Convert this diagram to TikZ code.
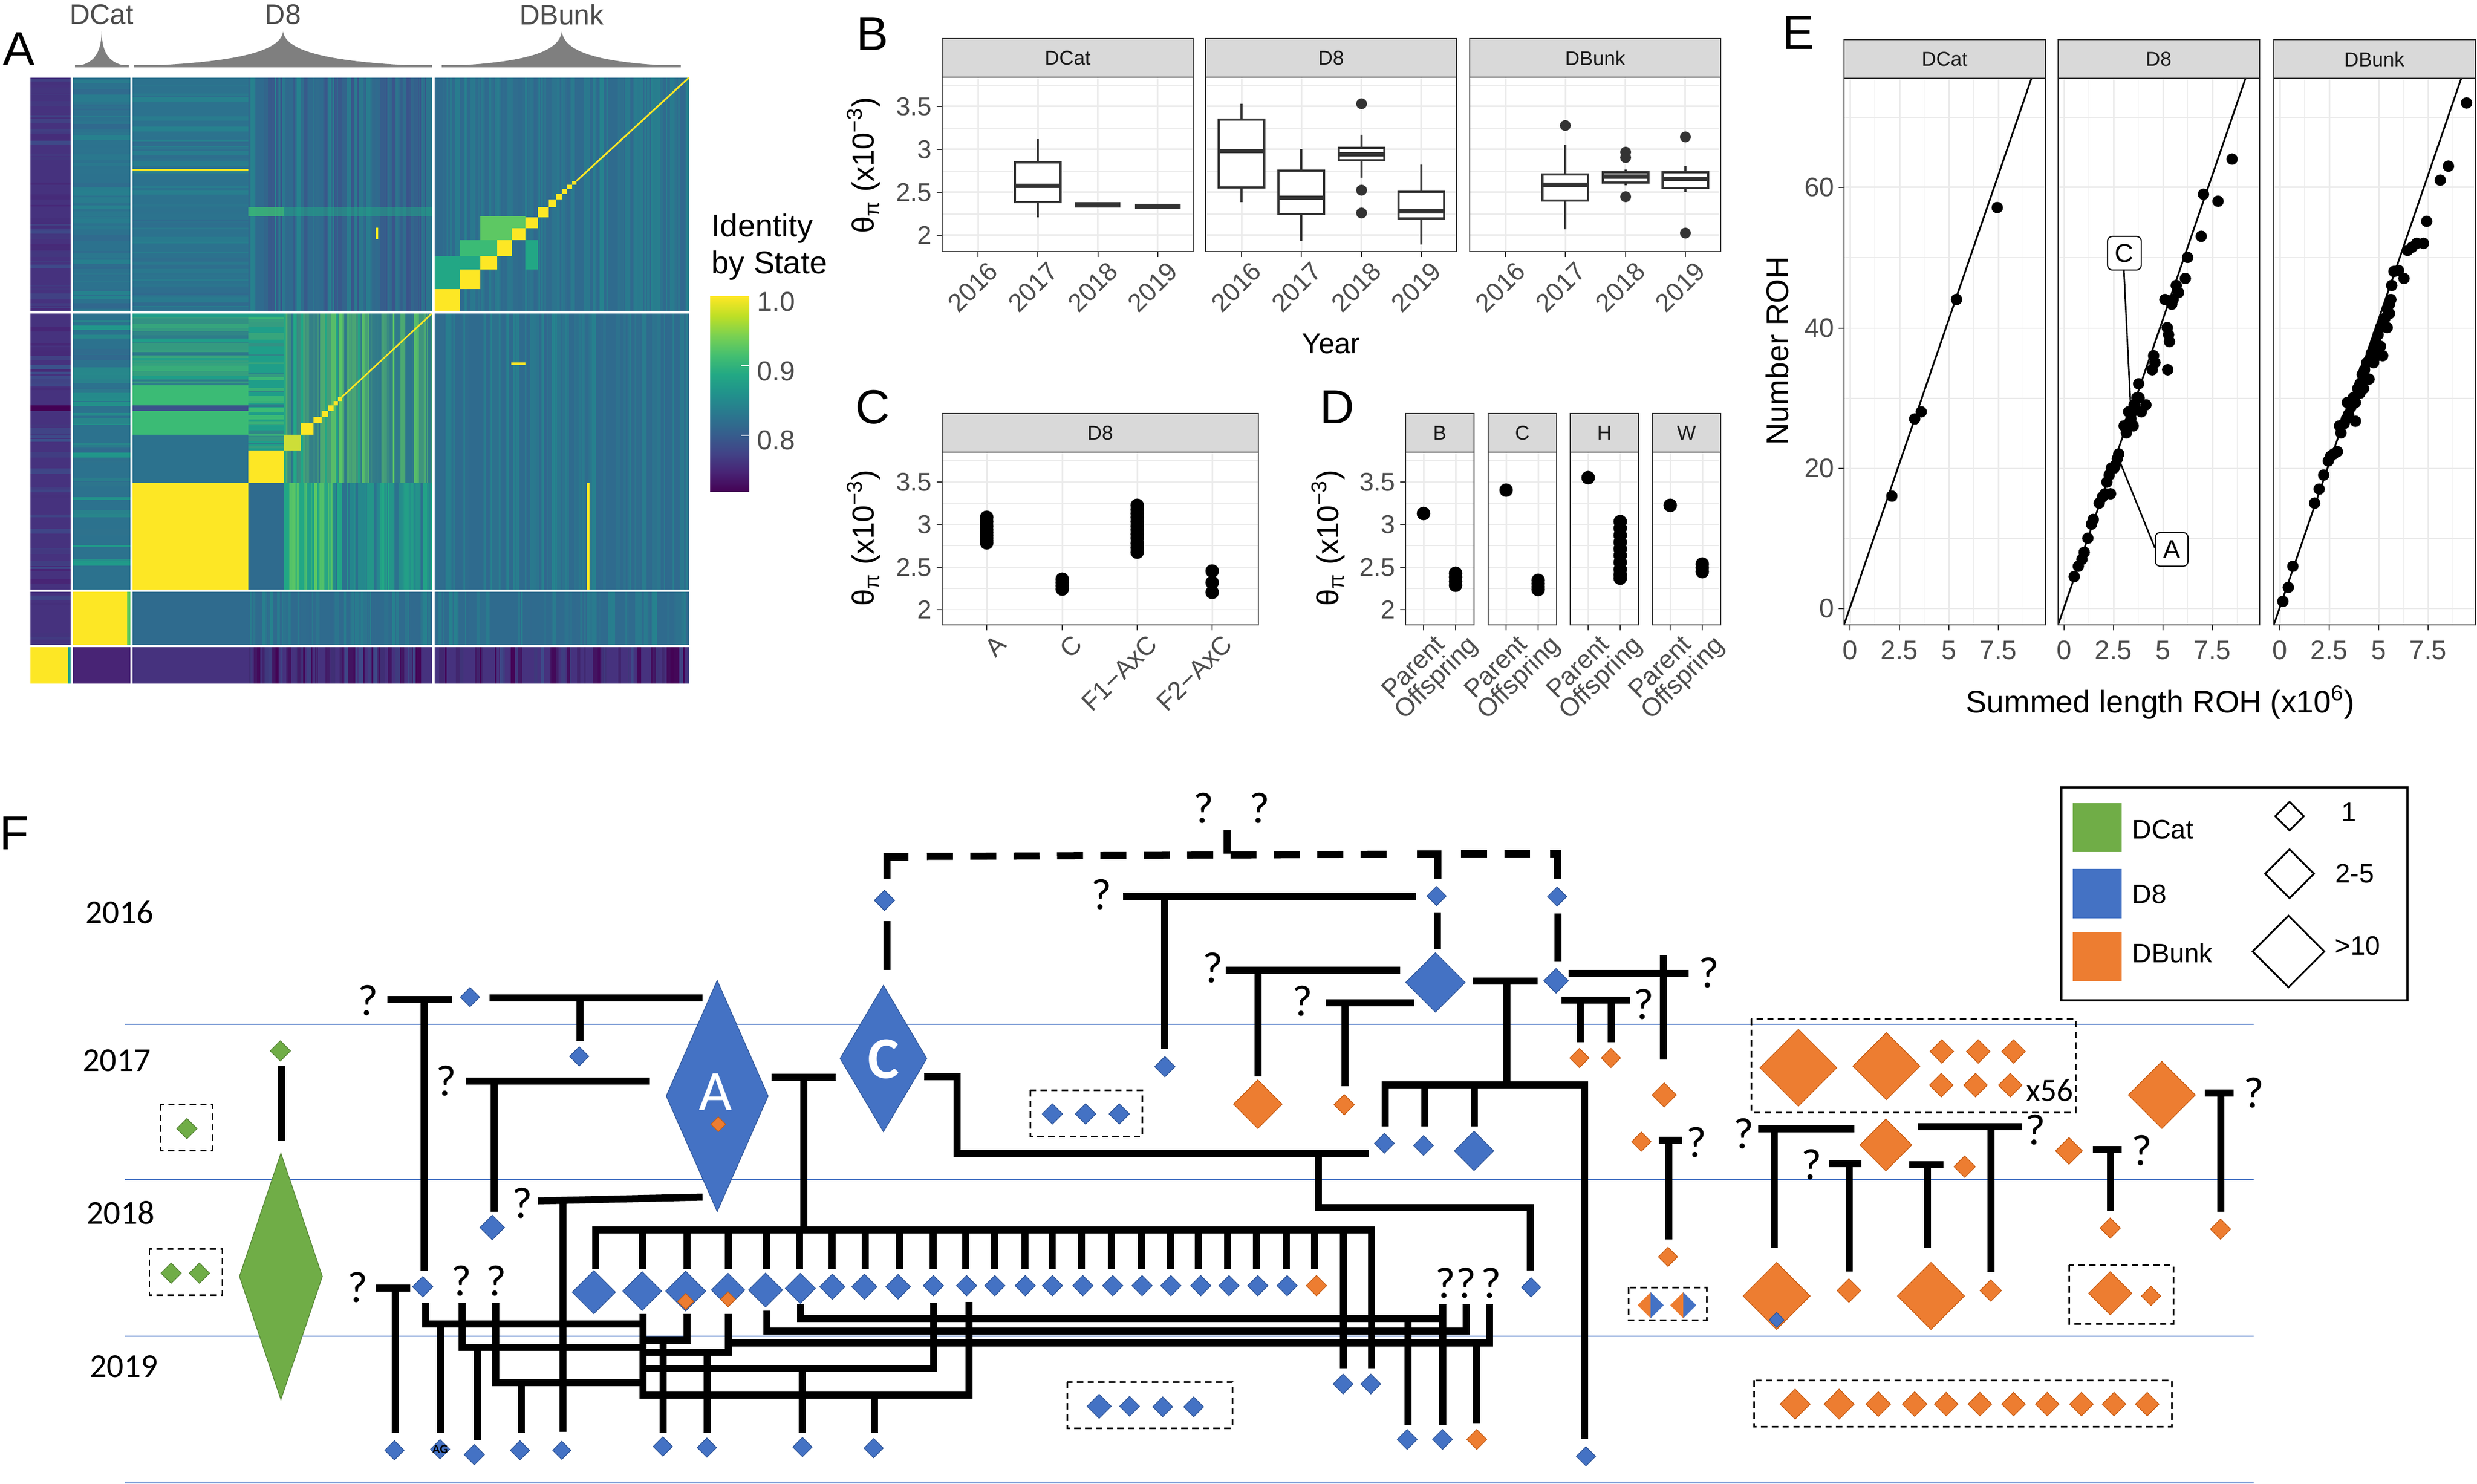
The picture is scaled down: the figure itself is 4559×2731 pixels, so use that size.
\documentclass[tikz,border=0pt]{standalone}
\usepackage{fontspec}
\setmainfont{Liberation Sans}
\newfontfamily\calfont{Carlito}
\usetikzlibrary{shapes.geometric}
\definecolor{fb}{HTML}{4472C4}
\definecolor{fbd}{HTML}{2F5597}
\definecolor{fo}{HTML}{ED7D31}
\definecolor{fod}{HTML}{C55A11}
\definecolor{fg}{HTML}{70AD47}
\definecolor{fgd}{HTML}{548235}
\definecolor{yline}{HTML}{4472C4}
\definecolor{gridc}{HTML}{EBEBEB}
\definecolor{gtw}{HTML}{333333}
\definecolor{gef}{HTML}{D9D9D9}
\definecolor{gth}{HTML}{4D4D4D}
\definecolor{gtn}{HTML}{1A1A1A}
\definecolor{tentc}{HTML}{7F7F7F}
\definecolor{vA}{HTML}{440154}
\definecolor{vB}{HTML}{482475}
\definecolor{vC}{HTML}{414487}
\definecolor{vD}{HTML}{355F8D}
\definecolor{vE}{HTML}{2A788E}
\definecolor{vF}{HTML}{21918C}
\definecolor{vG}{HTML}{22A884}
\definecolor{vH}{HTML}{44BF70}
\definecolor{vI}{HTML}{7AD151}
\definecolor{vJ}{HTML}{BDDF26}
\definecolor{vK}{HTML}{FDE725}
\definecolor{hP}{HTML}{46327E}
\definecolor{hPb}{HTML}{482475}
\definecolor{hPc}{HTML}{3E4A89}
\definecolor{hPd}{HTML}{440154}
\definecolor{hT}{HTML}{2C728E}
\definecolor{hTb}{HTML}{31688E}
\definecolor{hTc}{HTML}{26828E}
\definecolor{hTd}{HTML}{2F6B8E}
\definecolor{hG}{HTML}{22A785}
\definecolor{hGb}{HTML}{3BBB75}
\definecolor{hGc}{HTML}{1F9E89}
\definecolor{hGd}{HTML}{5DC863}
\definecolor{hY}{HTML}{FDE725}
\definecolor{hB}{HTML}{3B528B}
\pgfdeclareverticalshading{viridis}{100bp}{color(0bp)=(vA); color(25bp)=(vA); color(30bp)=(vB); color(35bp)=(vC); color(40bp)=(vD); color(45bp)=(vE); color(50bp)=(vF); color(55bp)=(vG); color(60bp)=(vH); color(65bp)=(vI); color(70bp)=(vJ); color(75bp)=(vK); color(100bp)=(vK)}
\newcommand\fsz[1]{\fontsize{#1}{#1}\selectfont}
\newcommand\hst[7]{\foreach \ii in {1,...,#5}{\pgfmathsetmacro\yya{#3+rnd*(#4-#3)}\pgfmathsetmacro\yyb{min(\yya+2+rnd*9,#4)}\pgfmathtruncatemacro\ppc{rnd*100}\fill[#6!\ppc!#7] (#1,\yya) rectangle (#2,\yyb);}}
\newcommand\vst[7]{\foreach \ii in {1,...,#5}{\pgfmathsetmacro\xxa{#1+rnd*(#2-#1)}\pgfmathsetmacro\xxb{min(\xxa+2+rnd*7,#2)}\pgfmathtruncatemacro\ppc{rnd*100}\fill[#6!\ppc!#7] (\xxa,#3) rectangle (\xxb,#4);}}
\newcommand\bbox[6]{\draw[bxl] (#1,#5) -- (#1,#2) (#1,#4) -- (#1,#6);
 \filldraw[bxl,fill=white] (#1-42,#2) rectangle (#1+42,#4);
 \draw[bxm] (#1-42,#3) -- (#1+42,#3);}
\tikzset{
 wire/.style={line width=3.7pt, line join=miter},
 dsh/.style={line width=3.7pt, dash pattern=on 13.6pt off 9.1pt},
 dbox/.style={draw=black, line width=0.85pt, dash pattern=on 3.3pt off 2.3pt},
 yl/.style={draw=yline, line width=0.6pt},
 qm/.style={font=\calfont\fsz{23pt}},
 yr/.style={font=\calfont\fsz{17.5pt}},
 bd/.style={diamond, inner sep=0pt, fill=fb, draw=fbd, line width=0.35pt, minimum width=#1*0.01cm, minimum height=#1*0.01cm},
 od/.style={diamond, inner sep=0pt, fill=fo, draw=fod, line width=0.35pt, minimum width=#1*0.01cm, minimum height=#1*0.01cm},
 gd/.style={diamond, inner sep=0pt, fill=fg, draw=fgd, line width=0.35pt, minimum width=#1*0.01cm, minimum height=#1*0.01cm},
 grid/.style={draw=gridc, line width=0.85pt},
 gridm/.style={draw=gridc, line width=0.42pt},
 frame/.style={draw=gtw, line width=0.6pt},
 strip/.style={fill=gef, draw=gtw, line width=0.6pt},
 tick/.style={draw=gtw, line width=0.6pt},
 tl/.style={text=gth, font=\fsz{13.5pt}},
 dot/.style={circle, fill=black, inner sep=0pt, minimum size=0.21cm},
 cdot/.style={circle, fill=black, inner sep=0pt, minimum size=0.25cm},
 odot/.style={circle, fill=gtw, inner sep=0pt, minimum size=0.2cm},
 bxl/.style={draw=gtw, line width=1.1pt},
 bxm/.style={draw=gtw, line width=2.3pt},
 plab/.style={font=\fsz{25pt}},
}
\begin{document}
\begin{tikzpicture}[x=0.01cm,y=-0.01cm,every node/.style={inner sep=0pt}]
\useasboundingbox (0,0) rectangle (4559,2731);
\fill[white] (0,0) rectangle (4559,2731);
\pgfmathsetseed{20231}
%%%%%%%%%%%%%%%% PANEL A
\node[plab] (labA) at (35,90) {A};
% col 0
\fill[hP] (56,143) rectangle (131,1188);
\hst{56}{131}{143}{1188}{80}{hPb}{hPc}
\fill[hB] (56,672) rectangle (131,679);
\fill[hPc] (56,684) rectangle (131,688);
\fill[hPd] (56,746) rectangle (131,756);
\fill[hB] (56,808) rectangle (131,813);
\fill[hY] (56,1188) rectangle (131,1258);
\fill[hGc] (125,1188) rectangle (131,1258);
% DCat col
\fill[hT] (131,143) rectangle (241,1086);
\hst{131}{241}{143}{575}{45}{hTb}{hTc}
\hst{131}{241}{575}{1086}{45}{hTb}{hGc}
\fill[hY] (131,1086) rectangle (241,1188);
\fill[hGd] (234,1086) rectangle (241,1188);
\fill[hPb] (131,1188) rectangle (241,1258);
% D8 col, DBunk rows
\fill[hT] (241,143) rectangle (457,575);
\hst{241}{457}{143}{575}{50}{hTb}{hTc}
\fill[hY] (241,311) rectangle (457,315);
\fill[hTd] (457,143) rectangle (797,575);
\vst{457}{797}{143}{575}{100}{hB}{hTc}
\fill[hGb, opacity=0.8] (457,381) rectangle (523,398);
\fill[hG, opacity=0.5] (523,381) rectangle (797,398);
\fill[hY] (692,419) rectangle (696,440);
% D8 col, D8 rows
\fill[hGc] (241,575) rectangle (457,709);
\hst{241}{457}{575}{709}{35}{hT}{hGb}
\fill[hGb] (241,709) rectangle (457,746);
\fill[hB] (241,746) rectangle (457,756);
\fill[hGb] (241,756) rectangle (457,800);
\fill[hT] (241,800) rectangle (457,889);
\fill[hY] (241,889) rectangle (457,1086);
\fill[hGc] (457,575) rectangle (523,829);
\hst{457}{523}{575}{829}{30}{hT}{hGb}
\fill[hY] (457,829) rectangle (523,889);
\fill[hTd] (457,889) rectangle (523,1086);
\fill[hG] (523,575) rectangle (797,889);
\vst{523}{797}{575}{889}{100}{hT}{hGd}
\fill[hG] (523,889) rectangle (612,1086);
\vst{523}{612}{889}{1086}{20}{hGc}{hGd}
\fill[hT] (612,889) rectangle (797,1086);
\vst{612}{797}{889}{1086}{50}{hTc}{hG}
\fill[hY!70!hGd] (523,800) rectangle (554,829);
\fill[hY] (554,779) rectangle (577,800);
\fill[hY] (577,767) rectangle (592,779);
\fill[hY] (592,756) rectangle (604,767);
\fill[hY] (604,746) rectangle (614,756);
\fill[hY] (614,738) rectangle (622,746);
\fill[hY] (622,731) rectangle (629,738);
\draw[hY, line width=0.8pt] (629,731) -- (797,575);
% D8 col, DCat and outgroup rows
\fill[hTd] (241,1086) rectangle (797,1188);
\vst{457}{797}{1086}{1188}{60}{hTb}{hTc}
\fill[hP] (241,1188) rectangle (797,1258);
\vst{457}{797}{1188}{1258}{60}{hPd}{hPc}
% DBunk col
\fill[hTd] (797,143) rectangle (1268,575);
\vst{797}{1268}{143}{575}{120}{hTb}{hTc}
\fill[hG] (797,471) rectangle (884,532);
\fill[hGb] (846,442) rectangle (918,471);
\fill[hGd] (884,398) rectangle (967,442);
\fill[hG] (967,442) rectangle (990,496);
\fill[hY] (797,532) rectangle (846,575);
\fill[hY] (846,496) rectangle (884,532);
\fill[hY] (884,471) rectangle (915,496);
\fill[hY] (915,442) rectangle (942,471);
\fill[hY] (942,420) rectangle (967,442);
\fill[hY] (967,400) rectangle (990,420);
\fill[hY] (990,381) rectangle (1010,400);
\fill[hY] (1010,367) rectangle (1023,381);
\fill[hY] (1023,357) rectangle (1034,367);
\fill[hY] (1034,348) rectangle (1044,357);
\fill[hY] (1044,340) rectangle (1053,348);
\fill[hY] (1053,333) rectangle (1061,340);
\draw[hY, line width=0.9pt] (1061,333) -- (1268,143);
\fill[hTd] (797,575) rectangle (1268,1086);
\vst{797}{1268}{575}{1086}{100}{hTb}{hTc}
\fill[hY] (1080,889) rectangle (1085,1086);
\fill[hY] (941,667) rectangle (967,672);
\fill[hTd] (797,1086) rectangle (1268,1188);
\vst{797}{1268}{1086}{1188}{60}{hTb}{hTc}
\fill[hP] (797,1188) rectangle (1268,1258);
\vst{797}{1268}{1188}{1258}{60}{hPd}{hPc}
\draw[white, line width=1.42pt] (132,143) -- (132,1258) (242,143) -- (242,1258) (797,143) -- (797,1258) (56,575) -- (1268,575) (56,1087) -- (1268,1087) (56,1189) -- (1268,1189);
% tents
\fill[tentc] (138,122) .. controls (172,118) and (186,100) .. (187,58) .. controls (188,100) and (202,118) .. (237,122) -- cycle;
\fill[tentc] (246,122) .. controls (420,116) and (516,98) .. (521,58) .. controls (526,98) and (622,116) .. (795,122) -- cycle;
\fill[tentc] (813,122) .. controls (960,116) and (1029,98) .. (1034,58) .. controls (1039,98) and (1108,116) .. (1253,122) -- cycle;
\draw[tentc, line width=1.1pt] (138,122) -- (237,122) (246,122) -- (795,122) (813,122) -- (1253,122);
\node[text=gth, font=\fsz{14.7pt}] (tDCat) at (187,27) {DCat};
\node[text=gth, font=\fsz{14.7pt}] (tD8) at (521,27) {D8};
\node[text=gth, font=\fsz{14.7pt}] (tDB) at (1034,27) {DBunk};
% colorbar
\shade[shading=viridis] (1307,546) rectangle (1379,905);
\foreach \yy in {673,801} \draw[white, line width=0.8pt] (1364,\yy) -- (1379,\yy);
\node[anchor=west, font=\fsz{16.5pt}] (ibs1) at (1309,421) {Identity};
\node[anchor=west, font=\fsz{16.5pt}] (ibs2) at (1309,489) {by State};
\node[anchor=west, text=gth, font=\fsz{14.3pt}] (cb1) at (1393,555) {1.0};
\node[anchor=west, text=gth, font=\fsz{14.3pt}] (cb2) at (1393,683) {0.9};
\node[anchor=west, text=gth, font=\fsz{14.3pt}] (cb3) at (1393,810) {0.8};
%%%%%%%%%%%%%%%% PANEL B
\node[plab] (labB) at (1606,62) {B};
\foreach \L in {1734,2219,2705}{
 \foreach \yy in {157,236,315,394} \draw[gridm] (\L,\yy) -- (\L+462,\yy);
 \foreach \yy in {196,275,354,433} \draw[grid] (\L,\yy) -- (\L+462,\yy);
 \foreach \i in {0,1,2,3} \draw[grid] (\L+66+110.3*\i,142) -- (\L+66+110.3*\i,463);
}
\bbox{1910}{299}{342}{372}{256}{400}
\draw[bxm, line width=2.7pt] (1978,377) -- (2062,377);
\draw[bxm, line width=2.7pt] (2089,380) -- (2173,380);
\bbox{2285}{220}{278}{345}{191}{372}
\bbox{2395}{314}{364}{394}{274}{444}
\bbox{2506}{272}{284}{295}{248}{327}
\bbox{2616}{353}{389}{402}{303}{450}
\bbox{2881}{321}{340}{369}{267}{422}
\bbox{2992}{317}{325}{336}{312}{341}
\bbox{3102}{317}{329}{346}{306}{353}
\foreach \ox/\oy in {2506/191,2506/350,2506/392,2881/231,2992/280,2992/290,2992/362,3102/252,3102/429} \node[odot] at (\ox,\oy) {};
\foreach \L/\lab in {1734/DCat,2219/D8,2705/DBunk}{
 \draw[frame] (\L,142) rectangle (\L+462,463);
 \draw[strip] (\L,71) rectangle (\L+462,142);
 \node[text=gtn, font=\fsz{10.5pt}] at (\L+231,107) {\lab};
 \foreach \i/\yr in {0/2016,1/2017,2/2018,3/2019}{
  \draw[tick] (\L+66+110.3*\i,463) -- (\L+66+110.3*\i,473);
  \node[tl, rotate=45, anchor=north east] at (\L+66+110.3*\i+16,478) {\yr};
 }
}
\foreach \yy/\tv in {196/3.5,275/3,354/2.5,433/2}{\draw[tick] (1724,\yy) -- (1734,\yy); \node[tl, anchor=east] at (1716,\yy) {\tv};}
\node[rotate=90, font=\fsz{16pt}] (ytB) at (1590,304) {θ\textsubscript{π} (x10\textsuperscript{−3})};
\node[font=\fsz{15pt}] (xtB) at (2450,633) {Year};
%%%%%%%%%%%%%%%% PANEL C
\node[plab] (labC) at (1606,749) {C};
\foreach \yy in {847,926,1004,1083} \draw[gridm] (1734,\yy) -- (2316,\yy);
\foreach \yy in {887,965,1044,1122} \draw[grid] (1734,\yy) -- (2316,\yy);
\foreach \xx in {1816,1955,2093,2231} \draw[grid] (\xx,832) -- (\xx,1150);
\foreach \yy in {952,960,968,975,980,985,990,995,999} \node[cdot] at (1816,\yy) {};
\foreach \yy in {1066,1072,1078,1084} \node[cdot] at (1955,\yy) {};
\foreach \yy in {930,938,945,952,960,968,975,983,990,1000,1008,1016} \node[cdot] at (2093,\yy) {};
\foreach \yy in {1051,1072,1090} \node[cdot] at (2231,\yy) {};
\draw[frame] (1734,832) rectangle (2316,1150);
\draw[strip] (1734,761) rectangle (2316,832);
\node[text=gtn, font=\fsz{10.5pt}] (sC) at (2025,797) {D8};
\foreach \yy/\tv in {887/3.5,965/3,1044/2.5,1122/2}{\draw[tick] (1724,\yy) -- (1734,\yy); \node[tl, anchor=east] at (1716,\yy) {\tv};}
\foreach \xx/\tv in {1816/A,1955/C,2093/F1−AxC,2231/F2−AxC}{\draw[tick] (\xx,1150) -- (\xx,1160); \node[tl, rotate=45, anchor=north east] at (\xx+16,1165) {\tv};}
\node[rotate=90, font=\fsz{16pt}] (ytC) at (1590,990) {θ\textsubscript{π} (x10\textsuperscript{−3})};
%%%%%%%%%%%%%%%% PANEL D
\node[plab] (labD) at (2461,749) {D};
\foreach \L/\lab in {2587/B,2739/C,2890/H,3041/W}{
 \foreach \yy in {847,926,1004,1083} \draw[gridm] (\L,\yy) -- (\L+126,\yy);
 \foreach \yy in {887,965,1044,1122} \draw[grid] (\L,\yy) -- (\L+126,\yy);
 \draw[grid] (\L+33,832) -- (\L+33,1150) (\L+92,832) -- (\L+92,1150);
}
\node[cdot] at (2620,945) {};
\foreach \yy in {1055,1062,1070,1077} \node[cdot] at (2679,\yy) {};
\node[cdot] at (2772,902) {};
\foreach \yy in {1068,1074,1080,1085} \node[cdot] at (2831,\yy) {};
\node[cdot] at (2923,879) {};
\foreach \yy in {960,972,985,998,1010,1022,1035,1048,1058,1064} \node[cdot] at (2982,\yy) {};
\node[cdot] at (3074,930) {};
\foreach \yy in {1038,1045,1052} \node[cdot] at (3133,\yy) {};
\foreach \L/\lab in {2587/B,2739/C,2890/H,3041/W}{
 \draw[frame] (\L,832) rectangle (\L+126,1150);
 \draw[strip] (\L,761) rectangle (\L+126,832);
 \node[text=gtn, font=\fsz{10.5pt}] at (\L+63,797) {\lab};
 \draw[tick] (\L+33,1150) -- (\L+33,1160) (\L+92,1150) -- (\L+92,1160);
 \node[tl, rotate=45, anchor=north east] at (\L+33+18,1165) {Parent};
 \node[tl, rotate=45, anchor=north east] at (\L+92+18,1165) {Offspring};
}
\foreach \yy/\tv in {887/3.5,965/3,1044/2.5,1122/2}{\draw[tick] (2577,\yy) -- (2587,\yy); \node[tl, anchor=east] at (2569,\yy) {\tv};}
\node[rotate=90, font=\fsz{16pt}] (ytD) at (2445,990) {θ\textsubscript{π} (x10\textsuperscript{−3})};
%%%%%%%%%%%%%%%% PANEL E
\node[plab] (labE) at (3310,60) {E};
\foreach \L in {3394,3788,4185}{
 \foreach \yy in {216,474,733,991} \draw[gridm] (\L,\yy) -- (\L+371,\yy);
 \foreach \yy in {345,604,862,1120} \draw[grid] (\L,\yy) -- (\L+371,\yy);
 \foreach \k in {0,1,2,3} \draw[gridm] (\L+56.5+91*\k,144) -- (\L+56.5+91*\k,1150);
 \foreach \k in {0,1,2,3} \draw[grid] (\L+11+91*\k,144) -- (\L+11+91*\k,1150);
 \begin{scope}
  \clip (\L,144) rectangle (\L+371,1150);
  \draw[line width=0.9pt] (\L,1150) -- (\L+345,144);
 \end{scope}
}
\foreach \ea/\eb in {3482/913,3524/771,3536/758,3601/551,3676/382} \node[dot] at (\ea,\eb) {};
\begin{scope}[shift={(3250,0)}, xscale=0.8348, yscale=0.8613]
\foreach \ea/\eb in {680/1232,689/1210,697/1195,702/1180,710/1150,718/1120,722/1110,735/1075,742/1062,748/1055,752/1030,757/1015,762/1000,768/1000,775/980,778/970,790/910,795/925,800/905,805/895,808/880,812/865,818/850,822/820,828/880,838/865,852/790,858/775,855/760,880/640,885/700,888/715,890/730,886/790,895/650,898/640,905/610,910/625,925/595,930/550,960/505,965/415,997/430,1028/340,760/1055,770/995,800/880,810/910,823/850}
  \node[dot] at (\ea,\eb) {};
\foreach \ea/\eb in {1140/1285,1152/1255,1162/1210,1210/1075,1220/1045,1230/1015,1240/985,1245/975,1252/970,1260/965,1265/910,1275/905,1280/895,1285/885,1290/870,1295/850,1300/860,1305/830,1310/820,1315/800,1320/790,1325/775,1330/770,1335/755,1340/745,1345/730,1350/715,1355/700,1360/690,1365/680,1370/660,1375/650,1378/640,1380/610,1385/580,1395/578,1407/595,1415/535,1425/528,1435/520,1450/520,1457/473,1487/385,1505/355,1545/220,1300/900,1310/840,1330/810,1340/775,1355/740,1360/760,1370/700,1375/670,1268/925,1282/860,1318/830,1348/760}
  \node[dot] at (\ea,\eb) {};
\end{scope}
\draw[line width=0.8pt] (3909,497) -- (3922,758);
\draw[line width=0.8pt] (3966,1008) -- (3901,848);
\node[draw, fill=white, rounded corners=2.5pt, line width=0.6pt, minimum width=0.62cm, minimum height=0.62cm, font=\fsz{13.5pt}] (lblC) at (3910,466) {C};
\node[draw, fill=white, rounded corners=2.5pt, line width=0.6pt, minimum width=0.6cm, minimum height=0.62cm, font=\fsz{13.5pt}] (lblA) at (3997,1011) {A};
\foreach \L/\lab in {3394/DCat,3788/D8,4185/DBunk}{
 \draw[frame] (\L,144) rectangle (\L+371,1150);
 \draw[strip] (\L,73) rectangle (\L+371,144);
 \node[text=gtn, font=\fsz{10.5pt}] at (\L+185,109) {\lab};
 \foreach \k/\tv in {0/0,1/2.5,2/5,3/7.5}{\draw[tick] (\L+11+91*\k,1150) -- (\L+11+91*\k,1160); \node[tl, font=\fsz{14pt}] at (\L+11+91*\k,1197) {\tv};}
}
\foreach \yy/\tv in {345/60,604/40,862/20,1120/0}{\draw[tick] (3384,\yy) -- (3394,\yy); \node[tl, font=\fsz{14pt}, anchor=east] at (3377,\yy) {\tv};}
\node[rotate=90, font=\fsz{16.3pt}] (ytE) at (3271,646) {Number ROH};
\node[font=\fsz{16.3pt}] (xtE) at (3976,1292) {Summed length ROH (x10\textsuperscript{6})};
%%%%%%%%%%%%%%%% PANEL F
\node[plab] (labF) at (26,1533) {F};
\foreach \yy in {1885,2171,2459,2729} \draw[yl] (230,\yy) -- (4148,\yy);
\node[yr] (y16) at (220,1679) {2016};
\node[yr] (y17) at (215,1952) {2017};
\node[yr] (y18) at (222,2232) {2018};
\node[yr] (y19) at (228,2515) {2019};
% DCat
\draw[wire] (518,1962) -- (518,2100);
\node[gd=38] (g1) at (516,1934) {};
\node[gd=38, minimum width=1.53cm, minimum height=4.54cm] (gbig) at (517,2349) {};
\draw[dbox] (296,2032) rectangle (391,2117);
\node[gd=38] (g2) at (344,2077) {};
\draw[dbox] (275,2298) rectangle (409,2383);
\node[gd=38] (g3) at (315,2343) {};
\node[gd=38] (g4) at (367,2343) {};
% D8 left
\node[qm] (q1) at (677,1841) {?};
\draw[wire] (713,1839) -- (832,1839) (780,1839) -- (780,2339);
\draw[wire] (901,1836) -- (1293,1836) (1067,1836) -- (1067,1916);
\node[bd=36] (b1) at (865,1835) {};
\node[bd=36] (b2) at (1066,1944) {};
\node[qm] (q2) at (821,1989) {?};
\draw[wire] (858,1989) -- (1196,1989) (909,1989) -- (909,2230);
\node[bd=46] (b3) at (906,2259) {};
\node[qm] (q3) at (961,2214) {?};
\draw[wire] (990,2210) -- (1293,2203) (1036,2208) -- (1036,2635);
\node[bd=34] (b4) at (1034,2669) {};
\draw[wire] (1420,1982) -- (1538,1982) (1479,1982) -- (1479,2263);
\draw[wire] (1701,1981) -- (1761,1981) -- (1761,2122) -- (2519,2122);
\draw[wire] (2426,2122) -- (2426,2222) -- (2816,2222) -- (2816,2338);
\node[bd=36] (b5) at (2818,2369) {};
\node[bd=36, minimum width=1.88cm, minimum height=4.26cm] (A) at (1320,2017) {};
\node[text=white, font=\calfont\fsz{30pt}] (Atxt) at (1317,2010) {A};
\node[od=28] (Ain) at (1322,2069) {};
\node[bd=36, minimum width=1.6cm, minimum height=2.7cm] (C) at (1626,1948) {};
\node[text=white, font=\calfont\bfseries\fsz{31pt}] (Ctxt) at (1626,1949) {C};
% dashed top
\draw[wire] (1632,1695) -- (1632,1785);
\node[bd=38] (b6) at (1628,1657) {};
\draw[wire] (1632,1617) -- (1632,1577) -- (1672,1577);
\draw[dsh] (1706,1576) -- (2571,1572);
\draw[wire] (2608,1572) -- (2646,1572) -- (2646,1617);
\draw[dsh] (2689,1571) -- (2816,1571);
\draw[wire] (2853,1571) -- (2866,1571) -- (2866,1617);
\draw[wire] (2258,1528) -- (2258,1571);
\node[qm] (q4) at (2215,1487) {?};
\node[qm] (q5) at (2318,1487) {?};
\node[bd=36] (t1) at (2644,1649) {};
\node[bd=36] (t2) at (2866,1650) {};
\draw[wire] (2645,1679) -- (2645,1747);
\draw[wire] (2867,1681) -- (2867,1769);
\node[qm] (q6) at (2027,1646) {?};
\draw[wire] (2067,1649) -- (2606,1649) (2143,1649) -- (2143,1930);
\node[bd=38] (b7) at (2144,1963) {};
\node[qm] (q7) at (2232,1781) {?};
\draw[wire] (2256,1785) -- (2577,1785) (2315,1785) -- (2315,1981);
\node[od=90] (o1) at (2315,2032) {};
\node[qm] (q8) at (2397,1842) {?};
\draw[wire] (2440,1845) -- (2603,1845) (2475,1845) -- (2475,1999);
\node[od=38] (o2) at (2474,2033) {};
\draw[wire] (2711,1805) -- (2830,1805) (2773,1805) -- (2773,1996);
\draw[wire] (2549,2073) -- (2549,1996) -- (2916,1996) -- (2916,2648);
\draw[wire] (2622,1996) -- (2622,2073) (2713,1996) -- (2713,2073);
\node[bd=110] (big8) at (2642,1808) {};
\node[bd=46] (b8) at (2864,1805) {};
\node[bd=37] (b9) at (2548,2104) {};
\node[bd=37] (b10) at (2620,2108) {};
\node[bd=73] (b11) at (2713,2118) {};
\node[bd=36] (b12) at (2919,2680) {};
\draw[wire] (2887,1791) -- (3108,1791) (3061,1758) -- (3061,1950);
\node[qm] (q9) at (3145,1790) {?};
\draw[wire] (2874,1840) -- (3000,1840) (2908,1840) -- (2908,1918) (2965,1840) -- (2965,1918);
\node[qm] (q10) at (3025,1848) {?};
\node[od=36] (o3) at (2907,1947) {};
\node[od=36] (o4) at (2965,1947) {};
\node[od=45] (o5) at (3063,2015) {};
\node[od=36] (o6) at (3021,2101) {};
\draw[wire] (3053,2098) -- (3096,2098) (3071,2098) -- (3071,2281);
\node[qm] (q11) at (3122,2102) {?};
\node[od=36] (o7) at (3070,2313) {};
\draw[dbox] (2997,2369) rectangle (3141,2429);
\fill[fo] (3014,2402) -- (3038,2378) -- (3038,2426) -- cycle;
\fill[fb] (3038,2378) -- (3062,2402) -- (3038,2426) -- cycle;
\fill[fo] (3074,2402) -- (3098,2378) -- (3098,2426) -- cycle;
\fill[fb] (3098,2378) -- (3122,2402) -- (3098,2426) -- cycle;
\draw[dbox] (1896,2006) rectangle (2102,2091);
\node[bd=38] (b13) at (1937,2050) {};
\node[bd=38] (b14) at (1998,2050) {};
\node[bd=38] (b15) at (2060,2050) {};
% 2018 row
\draw[wire] (1096,2335) -- (1096,2263) -- (2524,2263) -- (2524,2519);
\foreach \xx in {1182,1264,1340,1410,1471,1531,1592,1655,1717,1777,1830,1886,1936,1990,2045,2100,2154,2205,2259,2312,2367,2419} \draw[wire] (\xx,2263) -- (\xx,2335);
\draw[wire] (2472,2263) -- (2472,2519);
% wiring below
\node[qm] (q12) at (658,2369) {?};
\draw[wire] (692,2370) -- (755,2370) (727,2370) -- (727,2637);
\draw[wire] (783,2398) -- (783,2436) -- (1183,2436);
\draw[wire] (1183,2418) -- (1183,2572);
\draw[wire] (810,2436) -- (810,2637);
\node[qm] (q13) at (849,2357) {?};
\node[qm] (q14) at (913,2357) {?};
\draw[wire] (850,2398) -- (850,2479) -- (1183,2479) (878,2479) -- (878,2650);
\draw[wire] (912,2398) -- (912,2544) -- (1183,2544) (959,2544) -- (959,2637);
\draw[wire] (1264,2418) -- (1264,2466) -- (1183,2466) (1220,2466) -- (1220,2637);
\draw[wire] (1340,2418) -- (1340,2488) -- (1183,2488) (1301,2488) -- (1301,2637);
\draw[wire] (1340,2471) -- (2741,2471) -- (2741,2400) (2717,2471) -- (2717,2619);
\draw[wire] (1411,2412) -- (1411,2449) -- (2698,2449) -- (2698,2400);
\draw[wire] (1473,2400) -- (1473,2426) -- (2661,2426);
\draw[wire] (2655,2400) -- (2655,2622) (2591,2426) -- (2591,2622);
\draw[wire] (1718,2398) -- (1718,2518) -- (1183,2518) (1476,2518) -- (1476,2637);
\draw[wire] (1783,2396) -- (1783,2567) -- (1177,2567) (1609,2567) -- (1609,2637);
\node[bd=80] (r1) at (1093,2378) {};
\node[bd=72] (r2) at (1182,2376) {};
\node[bd=74] (r3) at (1262,2376) {};
\node[od=30] (r3i) at (1262,2395) {};
\node[bd=62] (r4) at (1340,2374) {};
\node[od=28] (r4i) at (1340,2391) {};
\node[bd=63] (r5) at (1409,2374) {};
\node[bd=56] (r6) at (1473,2371) {};
\node[bd=47] (r7) at (1532,2368) {};
\node[bd=47] (r8) at (1591,2368) {};
\node[bd=46] (r9) at (1653,2368) {};
\foreach \xx in {1718,1779,1831,1887,1937,1993,2048,2102,2155,2210,2262,2315,2369} \node[bd=38] at (\xx,2366) {};
\node[od=38] (r23) at (2423,2366) {};
\node[bd=37] (r24) at (2472,2547) {};
\node[bd=37] (r25) at (2523,2547) {};
\node[bd=36] (s1) at (726,2669) {};
\node[bd=38] (s2) at (778,2368) {};
\node[bd=36] (s3) at (810,2667) {};
\node[font=\calfont\bfseries\fsz{6.5pt}] (AG) at (810,2667) {AG};
\node[bd=38] (s4) at (873,2677) {};
\node[bd=36] (s5) at (957,2669) {};
\node[bd=36] (s6) at (1220,2662) {};
\node[bd=36] (s7) at (1301,2664) {};
\node[bd=36] (s8) at (1477,2663) {};
\node[bd=36] (s9) at (1608,2665) {};
\node[qm] (q15) at (2660,2361) {?};
\node[qm] (q16) at (2698,2361) {?};
\node[qm] (q17) at (2744,2361) {?};
\node[bd=37] (s10) at (2590,2649) {};
\node[bd=37] (s11) at (2655,2649) {};
\node[od=37] (s12) at (2718,2649) {};
\draw[dbox] (1964,2543) rectangle (2268,2628);
\node[bd=45] (s13) at (2023,2588) {};
\node[bd=37] (s14) at (2079,2588) {};
\node[bd=37] (s15) at (2140,2589) {};
\node[bd=37] (s16) at (2197,2589) {};
% DBunk right
\draw[dbox] (3223,1875) rectangle (3820,2047);
\node[od=142] (k1) at (3310,1965) {};
\node[od=124] (k2) at (3472,1962) {};
\foreach \xx/\yy in {3574/1935,3641/1935,3706/1935,3573/1997,3636/1997,3700/1997} \node[od=44] at (\xx,\yy) {};
\node[font=\calfont\fsz{17pt}] (x56) at (3773,2007) {x56};
\node[od=124] (k3) at (3979,2015) {};
\draw[wire] (4058,2011) -- (4111,2011) (4087,2011) -- (4087,2230);
\node[qm] (q18) at (4148,2011) {?};
\node[od=38] (k4) at (4087,2262) {};
\node[qm] (q19) at (3209,2086) {?};
\draw[wire] (3236,2077) -- (3413,2077) (3265,2077) -- (3265,2296);
\node[qm] (q20) at (3334,2143) {?};
\draw[wire] (3366,2141) -- (3426,2141) (3403,2141) -- (3403,2340);
\draw[wire] (3514,2143) -- (3577,2143) (3547,2143) -- (3547,2296);
\draw[wire] (3530,2073) -- (3722,2073) (3664,2073) -- (3664,2341);
\node[qm] (q21) at (3746,2079) {?};
\node[od=124] (k5) at (3270,2385) {};
\node[bd=28] (k5i) at (3270,2429) {};
\node[od=96] (k6) at (3471,2107) {};
\node[od=44] (k7) at (3403,2375) {};
\node[od=124] (k8) at (3554,2385) {};
\node[od=40] (k9) at (3616,2147) {};
\node[od=40] (k10) at (3664,2375) {};
\node[od=50] (k11) at (3808,2118) {};
\draw[wire] (3852,2115) -- (3905,2115) (3884,2115) -- (3884,2228);
\node[qm] (q22) at (3942,2117) {?};
\node[od=38] (k12) at (3884,2260) {};
\draw[dbox] (3808,2328) rectangle (4000,2436);
\node[od=80] (k13) at (3884,2380) {};
\node[od=36] (k14) at (3959,2385) {};
\draw[dbox] (3228,2540) rectangle (3997,2625);
\foreach \xx/\ss in {3304/56,3385/56,3457/46,3524/46,3582/44,3644/44,3706/44,3768/44,3831/44,3891/44,3952/44} \node[od=\ss] at (\xx,2584) {};
% legend
\draw[line width=0.9pt] (3794,1449) rectangle (4431,1841);
\fill[fg] (3815,1478) rectangle (3905,1568);
\fill[fb] (3815,1599) rectangle (3905,1690);
\fill[fo] (3815,1716) rectangle (3905,1806);
\node[anchor=west, font=\fsz{14pt}] (lg1) at (3924,1527) {DCat};
\node[anchor=west, font=\fsz{14pt}] (lg2) at (3924,1646) {D8};
\node[anchor=west, font=\fsz{14pt}] (lg3) at (3924,1754) {DBunk};
\node[diamond, draw=black, line width=0.9pt, minimum width=0.54cm, minimum height=0.54cm] (ld1) at (4214,1502) {};
\node[diamond, draw=black, line width=0.9pt, minimum width=0.91cm, minimum height=0.91cm] (ld2) at (4214,1608) {};
\node[diamond, draw=black, line width=0.9pt, minimum width=1.33cm, minimum height=1.33cm] (ld3) at (4212,1751) {};
\node[font=\fsz{14pt}] (ll1) at (4323,1495) {1};
\node[font=\fsz{14pt}] (ll2) at (4334,1608) {2-5};
\node[font=\fsz{14pt}] (ll3) at (4339,1741) {>10};
\end{tikzpicture}
\end{document}
